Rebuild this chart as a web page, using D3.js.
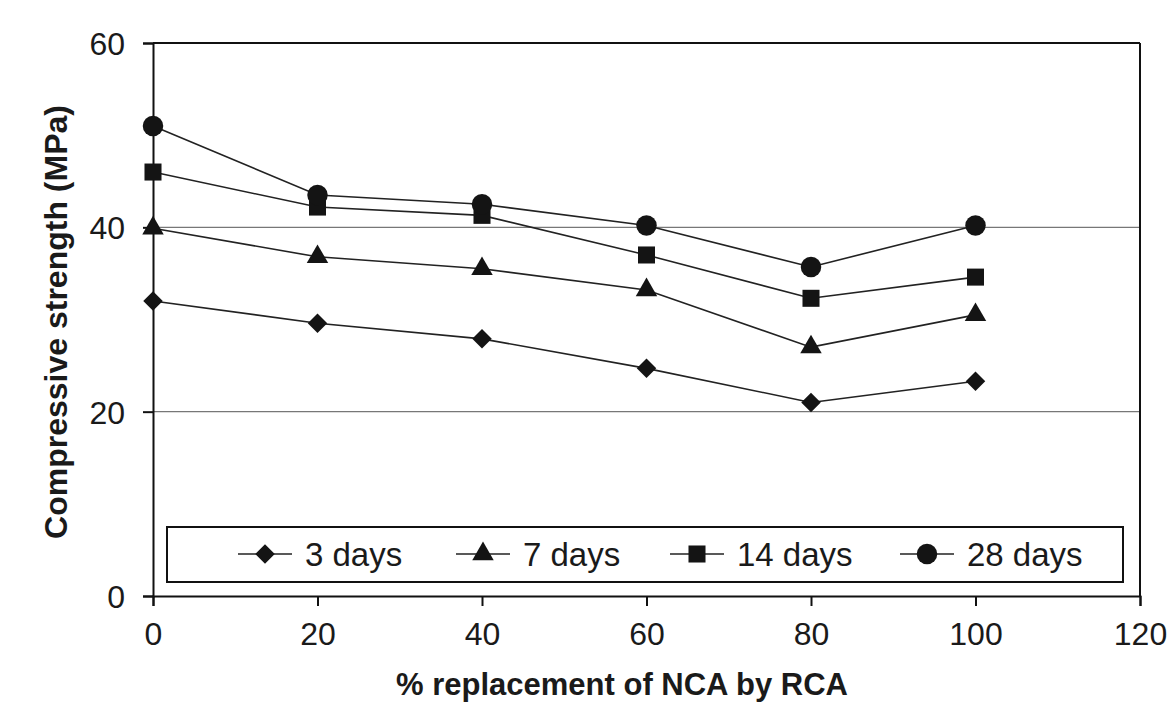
<!DOCTYPE html>
<html>
<head>
<meta charset="utf-8">
<script src="https://cdn.jsdelivr.net/npm/d3@7"></script>
<style>
  body { margin: 0; background: #fff; }
  text { font-family: "Liberation Sans", Arial, sans-serif; fill: #1a1a1a; }
</style>
</head>
<body>
<div id="chart"></div>
<script>
// % replacement of NCA by RCA
let replacement = [0, 20, 40, 60, 80, 100]

// compressive strength (MPa) per curing age
let days3  = [32.0, 29.6, 27.9, 24.7, 21.0, 23.3]
let days7  = [39.9, 36.8, 35.5, 33.2, 27.0, 30.5]
let days14 = [46.0, 42.2, 41.3, 37.0, 32.3, 34.6]
let days28 = [51.0, 43.5, 42.5, 40.2, 35.7, 40.2]

let seriesNames = ["3 days", "7 days", "14 days", "28 days"]

let xTicks = [0, 20, 40, 60, 80, 100, 120]
let yTicks = [0, 20, 40, 60]
let gridValues = [20, 40]

let series = [days3, days7, days14, days28]

// marker shapes: diamond is a square turned 45 degrees
let seriesShapes = [d3.symbolSquare, d3.symbolTriangle, d3.symbolSquare, d3.symbolCircle]
let symbolSizes = [190, 200, 290, 330]
let symbolRotate = [45, 0, 0, 0]

let svg = d3.select("#chart").append("svg")
  .attr("width", 1175)
  .attr("height", 724)

let x = d3.scaleLinear().domain([0, 120]).range([153, 1140])
let y = d3.scaleLinear().domain([0, 60]).range([596, 43])

// grid lines
svg.selectAll("line.grid")
  .data(gridValues)
  .enter()
  .append("line")
  .attr("class", "grid")
  .attr("x1", x(0))
  .attr("x2", x(120))
  .attr("y1", d => y(d))
  .attr("y2", d => y(d))
  .style("stroke", "#777")
  .style("stroke-width", 1.2)

// frame: top and right edge
svg.append("line")
  .attr("x1", x(0)).attr("x2", x(120))
  .attr("y1", y(60)).attr("y2", y(60))
  .style("stroke", "#111").style("stroke-width", 2)
svg.append("line")
  .attr("x1", x(120)).attr("x2", x(120))
  .attr("y1", y(60)).attr("y2", y(0))
  .style("stroke", "#111").style("stroke-width", 2)

let xAxis = svg.append("g")
  .attr("transform", "translate(0," + y(0) + ")")
  .call(d3.axisBottom(x).tickValues(xTicks).tickSize(10).tickPadding(16).tickFormat(d3.format("d")))
let yAxis = svg.append("g")
  .attr("transform", "translate(" + x(0) + ",0)")
  .call(d3.axisLeft(y).tickValues(yTicks).tickSize(10).tickPadding(18).tickFormat(d3.format("d")))

function styleAxis(g) {
  g.select(".domain").style("stroke", "#111").style("stroke-width", 2)
  g.selectAll(".tick line").style("stroke", "#111").style("stroke-width", 2)
  g.selectAll(".tick text")
    .style("font-size", "32px")
    .style("font-family", "'Liberation Sans', Arial, sans-serif")
    .style("fill", "#1a1a1a")
}
styleAxis(xAxis)
styleAxis(yAxis)
yAxis.selectAll(".tick text").attr("dy", "0.36em")

// series lines
let line = d3.line()
  .x((d, i) => x(replacement[i]))
  .y(d => y(d))

svg.selectAll("path.series")
  .data(series)
  .enter()
  .append("path")
  .attr("class", "series")
  .attr("d", d => line(d))
  .style("fill", "none")
  .style("stroke", "#222")
  .style("stroke-width", 1.6)

function marker(s) {
  return d3.symbol().type(seriesShapes[s]).size(symbolSizes[s])()
}

series.forEach(function (vals, s) {
  svg.selectAll("path.m" + s)
    .data(vals)
    .enter()
    .append("path")
    .attr("class", "m" + s)
    .attr("transform", (d, i) => "translate(" + x(replacement[i]) + "," + y(d) + ") rotate(" + symbolRotate[s] + ")")
    .attr("d", marker(s))
    .style("fill", "#141414")
})

// legend
let legend = svg.append("g")
legend.append("rect")
  .attr("x", 167).attr("y", 527)
  .attr("width", 956).attr("height", 55)
  .style("fill", "#fff")
  .style("stroke", "#111")
  .style("stroke-width", 2)

let legendX = [238, 456, 670, 900]
seriesNames.forEach(function (name, s) {
  let lx = legendX[s]
  legend.append("line")
    .attr("x1", lx).attr("x2", lx + 54)
    .attr("y1", 554).attr("y2", 554)
    .style("stroke", "#222").style("stroke-width", 1.6)
  legend.append("path")
    .attr("transform", "translate(" + (lx + 27) + ",554) rotate(" + symbolRotate[s] + ")")
    .attr("d", marker(s))
    .style("fill", "#141414")
  legend.append("text")
    .attr("x", lx + 67)
    .attr("y", 554)
    .attr("dy", "0.36em")
    .style("font-size", "33px")
    .text(name)
})

// axis titles
svg.append("text")
  .attr("x", 622)
  .attr("y", 684)
  .attr("dy", "0.36em")
  .attr("text-anchor", "middle")
  .style("font-size", "31px")
  .style("font-weight", "bold")
  .text("% replacement of NCA by RCA")

svg.append("text")
  .attr("transform", "translate(55,322) rotate(-90)")
  .attr("dy", "0.36em")
  .attr("text-anchor", "middle")
  .style("font-size", "32px")
  .style("font-weight", "bold")
  .text("Compressive strength (MPa)")
</script>
</body>
</html>
